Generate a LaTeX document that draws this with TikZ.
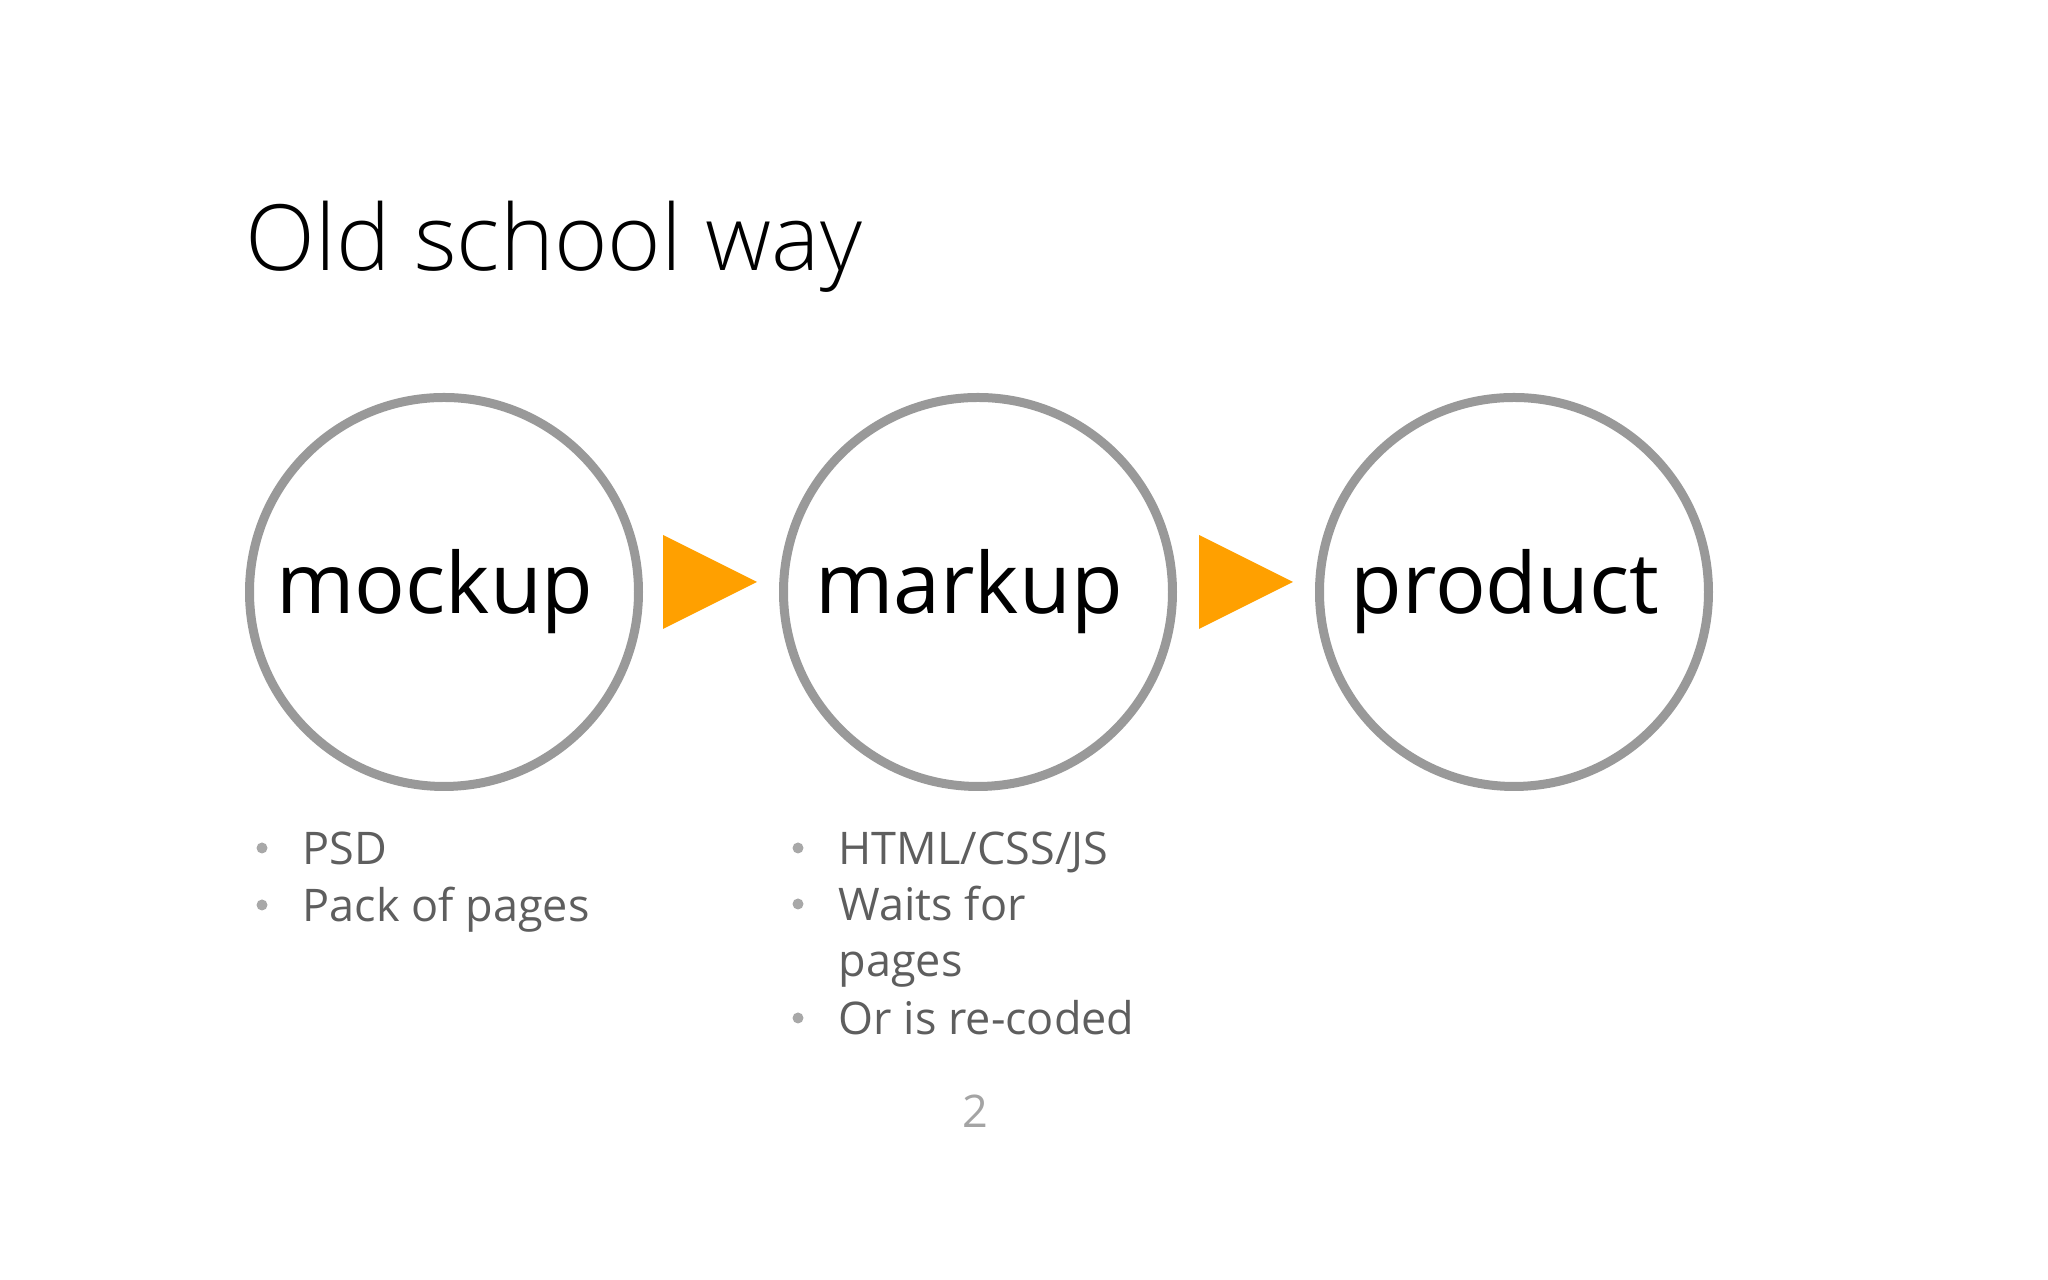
\documentclass[tikz,border=0pt]{standalone}
\usepackage{fontspec}
\setmainfont{Open Sans}
\newfontfamily\titlefont{Open Sans Light}
\usepackage{tikz}
\usetikzlibrary{shapes.geometric}

\definecolor{ringgray}{HTML}{999999}
\definecolor{floworange}{HTML}{FFA000}
\definecolor{itemgray}{HTML}{5E5E5E}
\definecolor{dotgray}{HTML}{A8A8A8}
\definecolor{pagegray}{HTML}{A4A4A4}

\begin{document}
\begin{tikzpicture}[
  stage/.style={circle, draw=ringgray, line width=0.09cm,
    minimum size=3.89cm, inner sep=0pt},
  stagelabel/.style={font=\fontsize{24}{28}\selectfont, inner sep=0pt},
  flow/.style={isosceles triangle, isosceles triangle stretches,
    fill=floworange, draw=none, inner sep=0pt, outer sep=0pt,
    minimum width=0.94cm, minimum height=0.94cm, anchor=apex},
  item/.style={anchor=base west, text=itemgray, inner sep=0pt,
    font=\fontsize{12.8}{16}\selectfont},
  dot/.style={circle, fill=dotgray, inner sep=0pt, minimum size=0.11cm},
  title/.style={anchor=base west, inner sep=0pt,
    font=\titlefont\fontsize{26}{31}\selectfont}
]
\useasboundingbox (0,0) rectangle (20.48,-12.8);

\node[title] (title) at (2.45,-2.71) {Old school way};

% the three stages
\node[stage] (mockup) at (4.44,-5.92) {};
\node[stage] (markup) at (9.78,-5.92) {};
\node[stage] (product) at (15.14,-5.92) {};
\node[stagelabel] (mockuptext) at ([xshift=-0.09cm]mockup.center) {mockup};
\node[stagelabel] (markuptext) at ([xshift=-0.09cm]markup.center) {markup};
\node[stagelabel] (producttext) at ([xshift=-0.09cm]product.center) {product};

% orange arrows between stages
\node[flow] (flowa) at ([xshift=-0.22cm, yshift=0.10cm]markup.west) {};
\node[flow] (flowb) at ([xshift=-0.22cm, yshift=0.10cm]product.west) {};

% notes under mockup
\node[dot] (dota) at (2.62,-8.48) {};
\node[item] (psd) at (3.02,-8.65) {PSD};
\node[dot] (dotb) at (2.62,-9.05) {};
\node[item] (pack) at (3.02,-9.22) {Pack of pages};

% notes under markup
\node[dot] (dotc) at (7.98,-8.48) {};
\node[item] (html) at (8.38,-8.65) {HTML/CSS/JS};
\node[dot] (dotd) at (7.98,-9.04) {};
\node[item] (waits) at (8.38,-9.21) {Waits for};
\node[item] (pages) at (8.38,-9.77) {pages};
\node[dot] (dote) at (7.98,-10.18) {};
\node[item] (recoded) at (8.38,-10.35) {Or is re-coded};

\node[anchor=base, inner sep=0pt, text=pagegray,
  font=\fontsize{12.8}{16}\selectfont] (pagenum) at (9.75,-11.28) {2};
\end{tikzpicture}
\end{document}
